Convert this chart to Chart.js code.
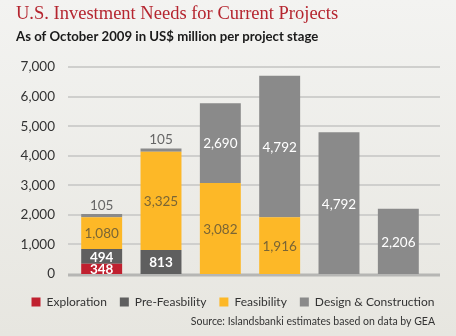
<!DOCTYPE html>
<html>
<head>
<meta charset="utf-8">
<script src="https://cdn.jsdelivr.net/npm/chart.js@4.4.0/dist/chart.umd.min.js"></script>
<style>
  html, body { margin: 0; padding: 0; }
  body { width: 456px; height: 336px; background: linear-gradient(#f3f3f1, #e7e6e0); }
  #wrap { width: 456px; height: 336px; }
</style>
</head>
<body>
<div id="wrap"><canvas id="investChart"></canvas></div>
<script>
const stages = ['1', '2', '3', '4', '5', '6'];
const exploration = [348, 0, 0, 0, 0, 0];
const preFeasibility = [494, 813, 0, 0, 0, 0];
const feasibility = [1080, 3325, 3082, 1916, 0, 0];
const designConstruction = [105, 105, 2690, 4792, 4792, 2206];
const yTicks = [0, 1000, 2000, 3000, 4000, 5000, 6000, 7000];

const FONT = 'Lato, "Open Sans", sans-serif';

// horizontal grid lines, drawn a little wider than the bars' area
const gridLines = {
  id: 'gridLines',
  beforeDatasetsDraw(chart) {
    const y = chart.scales.y;
    const ctx = chart.ctx;
    const left = chart.chartArea.left - 4;
    const right = chart.chartArea.right + 12;
    ctx.save();
    yTicks.forEach(v => {
      const py = Math.round(y.getPixelForValue(v));
      ctx.beginPath();
      ctx.strokeStyle = v === 0 ? '#b6b6b4' : '#cfcfcd';
      ctx.lineWidth = v === 0 ? 3 : 2;
      ctx.moveTo(left, v === 0 ? py + 1 : py);
      ctx.lineTo(right, v === 0 ? py + 1 : py);
      ctx.stroke();
    });
    ctx.restore();
  }
};

// value labels on the segments
const segLabels = {
  id: 'segLabels',
  afterDatasetsDraw(chart) {
    const ctx = chart.ctx;
    ctx.save();
    ctx.textAlign = 'center';
    chart.data.datasets.forEach((ds, i) => {
      const meta = chart.getDatasetMeta(i);
      meta.data.forEach((bar, j) => {
        const v = ds.data[j];
        if (!v) return;
        const txt = v.toLocaleString('en-US');
        if (v < 200 && i === 3) {
          ctx.font = '13.5px ' + FONT;
          ctx.fillStyle = '#666666';
          ctx.textBaseline = 'bottom';
          ctx.fillText(txt, bar.x, bar.y - 2);
          return;
        }
        ctx.textBaseline = 'middle';
        ctx.fillStyle = ds.labelColor;
        ctx.font = (ds.labelBold ? 'bold ' : '') + '13.5px ' + FONT;
        ctx.fillText(txt, bar.x, (bar.y + bar.base) / 2 + 1);
      });
    });
    ctx.restore();
  }
};

const sourceNote = {
  id: 'sourceNote',
  afterDraw(chart) {
    const ctx = chart.ctx;
    ctx.save();
    ctx.font = '10.5px ' + FONT;
    ctx.fillStyle = '#333333';
    ctx.textAlign = 'right';
    ctx.textBaseline = 'middle';
    ctx.fillText('Source: Islandsbanki estimates based on data by GEA', 435, 322);
    ctx.restore();
  }
};

const ctx = document.getElementById('investChart').getContext('2d');
new Chart(ctx, {
  type: 'bar',
  data: {
    labels: stages,
    datasets: [
      { label: 'Exploration', data: exploration, backgroundColor: '#c0202f', labelColor: '#ffffff', labelBold: true },
      { label: 'Pre-Feasbility', data: preFeasibility, backgroundColor: '#5f5f5f', labelColor: '#ffffff', labelBold: true },
      { label: 'Feasibility', data: feasibility, backgroundColor: '#fdb827', labelColor: '#7a6535' },
      { label: 'Design & Construction', data: designConstruction, backgroundColor: '#8a8a8a', labelColor: '#ffffff' }
    ]
  },
  options: {
    responsive: true,
    maintainAspectRatio: false,
    animation: false,
    categoryPercentage: 1,
    barPercentage: 0.69,
    layout: { padding: { left: 16, right: 6, top: 0, bottom: 18 } },
    plugins: {
      title: {
        display: true,
        text: 'U.S. Investment Needs for Current Projects',
        align: 'start',
        color: '#b5252f',
        font: { family: '"Liberation Serif", serif', size: 18.5, weight: 'normal' },
        padding: { top: 3, bottom: 0 }
      },
      subtitle: {
        display: true,
        text: 'As of October 2009 in US$ million per project stage',
        align: 'start',
        color: '#1a1a1a',
        font: { family: FONT, size: 13.2, weight: 'bold' },
        padding: { top: 4, bottom: 22 }
      },
      legend: {
        position: 'bottom',
        labels: {
          boxWidth: 9,
          boxHeight: 9,
          padding: 13,
          color: '#333333',
          font: { family: FONT, size: 12 }
        }
      },
      tooltip: { enabled: false }
    },
    scales: {
      x: {
        stacked: true,
        afterFit(scale) { scale.height = 9; },
        grid: { display: false, drawTicks: false },
        border: { display: false },
        ticks: { display: false }
      },
      y: {
        stacked: true,
        min: 0,
        max: 7000,
        afterFit(scale) { scale.width = 56; },
        afterBuildTicks(scale) { scale.ticks = yTicks.map(v => ({ value: v })); },
        grid: { display: false, drawTicks: false },
        border: { display: false },
        ticks: {
          padding: 17,
          color: '#333333',
          font: { family: FONT, size: 13.5 },
          callback: v => v.toLocaleString('en-US')
        }
      },
      // empty right-hand axis, only keeps room to the right of the bars
      yRight: {
        position: 'right',
        afterFit(scale) { scale.width = 22; },
        grid: { display: false, drawTicks: false },
        border: { display: false },
        ticks: { display: false }
      }
    }
  },
  plugins: [gridLines, segLabels, sourceNote]
});
</script>
</body>
</html>
